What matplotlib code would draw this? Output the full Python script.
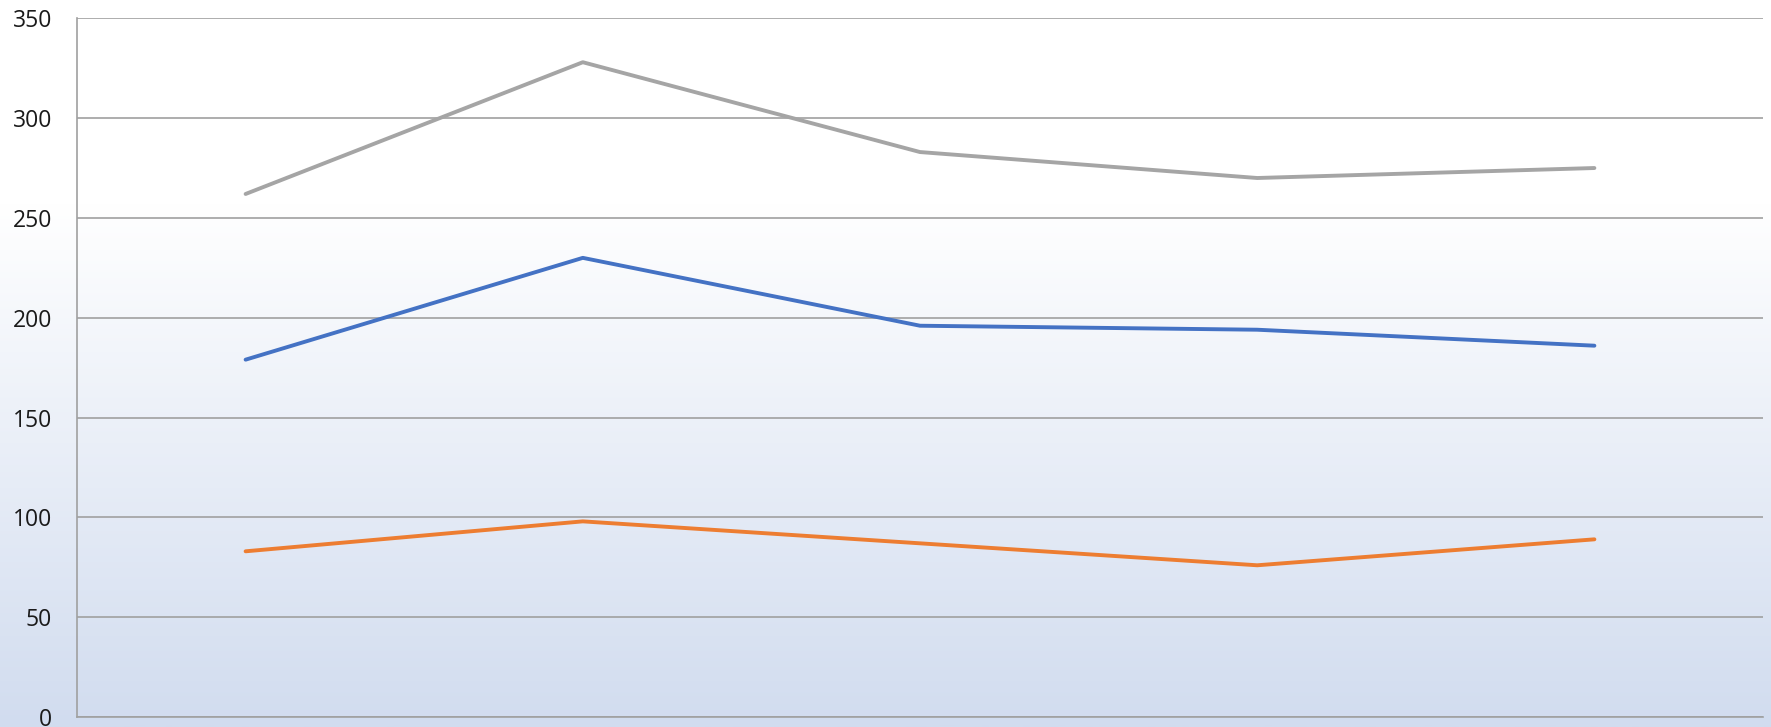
import matplotlib
matplotlib.use("Agg")
import matplotlib.pyplot as plt
import numpy as np
from matplotlib.colors import LinearSegmentedColormap

categories = [1, 2, 3, 4, 5]
series_gray = [262, 328, 283, 270, 275]
series_blue = [179, 230, 196, 194, 186]
series_orange = [83, 98, 87, 76, 89]
y_ticks = [0, 50, 100, 150, 200, 250, 300, 350]

W, H, DPI = 1771, 727, 100
fig = plt.figure(figsize=(W / DPI, H / DPI), dpi=DPI)

# background gradient over the whole chart area
bg = fig.add_axes([0, 0, 1, 1], zorder=-10)
cmap = LinearSegmentedColormap.from_list(
    "g", [(0.0, "#ffffff"), (0.28, "#ffffff"), (1.0, "#d1dcef")])
grad = np.linspace(0, 1, 512).reshape(-1, 1)
bg.imshow(grad, aspect="auto", cmap=cmap, extent=[0, 1, 0, 1], origin="upper")
bg.set_axis_off()

ax = fig.add_axes([77 / W, 1 - 717 / H, (1763 - 77) / W, (717 - 18.3) / H])
ax.set_facecolor("none")

ax.plot(categories, series_gray, color="#a5a5a5", lw=2.8, solid_capstyle="round", zorder=3)
ax.plot(categories, series_blue, color="#4472c4", lw=2.8, solid_capstyle="round", zorder=3)
ax.plot(categories, series_orange, color="#ed7d31", lw=2.8, solid_capstyle="round", zorder=3)

ax.set_xlim(0.5, 5.5)
ax.set_ylim(0, 350)
ax.set_yticks(y_ticks)
ax.set_yticklabels([str(v) for v in y_ticks], fontsize=16.5, fontfamily="Open Sans", color="#1a1a1a")
ax.set_xticks([])
ax.tick_params(axis="y", length=0, pad=18)
ax.grid(axis="y", color="#a0a0a0", lw=1.2, zorder=1)
ax.set_axisbelow(True)
for s in ["top", "right"]:
    ax.spines[s].set_visible(False)
for s in ["left", "bottom"]:
    ax.spines[s].set_color("#a0a0a0")
    ax.spines[s].set_linewidth(1.2)

fig.savefig("out.png", dpi=DPI)
